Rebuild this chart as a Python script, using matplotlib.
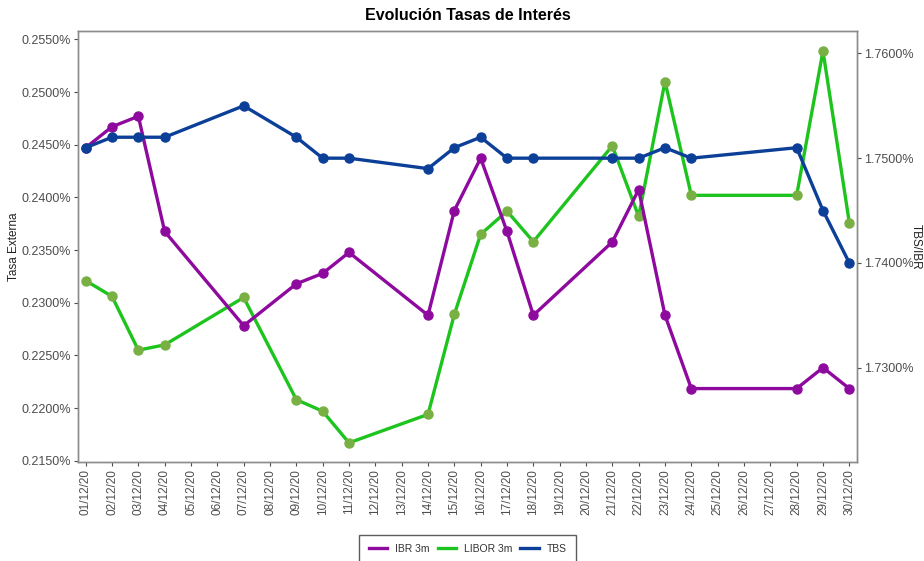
import matplotlib
matplotlib.use("Agg")
import matplotlib.pyplot as plt
from matplotlib.ticker import FuncFormatter, MultipleLocator
from matplotlib.lines import Line2D

plt.rcParams["font.family"] = ["Liberation Sans", "DejaVu Sans"]

# dias de diciembre 2020 con dato
dias = [1, 2, 3, 4, 7, 9, 10, 11, 14, 15, 16, 17, 18, 21, 22, 23, 24, 28, 29, 30]

ibr_3m = [1.7510, 1.7530, 1.7540, 1.7430, 1.7340, 1.7380, 1.7390, 1.7410, 1.7350, 1.7450,
          1.7500, 1.7430, 1.7350, 1.7420, 1.7470, 1.7350, 1.7280, 1.7280, 1.7300, 1.7280]
tbs = [1.7510, 1.7520, 1.7520, 1.7520, 1.7550, 1.7520, 1.7500, 1.7500, 1.7490, 1.7510,
       1.7520, 1.7500, 1.7500, 1.7500, 1.7500, 1.7510, 1.7500, 1.7510, 1.7450, 1.7400]
libor_3m = [0.2321, 0.2306, 0.2255, 0.2260, 0.2305, 0.2208, 0.2197, 0.2167, 0.2194, 0.2289,
            0.2365, 0.2387, 0.2358, 0.2449, 0.2382, 0.2510, 0.2402, 0.2402, 0.2539, 0.2376]

etiquetas = [f"{d:02d}/12/20" for d in range(1, 31)]

c_ibr = "#8e0a9e"
c_libor = "#1ec41e"
c_libor_pt = "#78b043"
c_tbs = "#0b3f98"
gris = "#4d4d4d"

fig = plt.figure(figsize=(9.24, 5.61), dpi=100)
ax = fig.add_axes([0.0844, 0.1765, 0.8431, 0.768])
ax2 = ax.twinx()

ax.plot(dias, libor_3m, color=c_libor, lw=2.4, zorder=2)
ax.plot(dias, libor_3m, "o", color=c_libor_pt, ms=6.5, zorder=3)
ax2.plot(dias, ibr_3m, color=c_ibr, lw=2.4, marker="o", ms=6.5, zorder=2)
ax2.plot(dias, tbs, color=c_tbs, lw=2.4, marker="o", ms=6.5, zorder=3)

ax.set_xlim(0.708, 30.292)
ax.set_ylim(0.21488, 0.25579)
ax2.set_ylim(1.72099, 1.76213)

ax.set_xticks(range(1, 31))
ax.set_xticklabels(etiquetas, rotation=90, color=gris)
ax.yaxis.set_major_locator(MultipleLocator(0.005))
ax2.yaxis.set_major_locator(MultipleLocator(0.01))
ax.yaxis.set_major_formatter(FuncFormatter(lambda v, p: f"{v:.4f}%"))
ax2.yaxis.set_major_formatter(FuncFormatter(lambda v, p: f"{v:.4f}%"))

for a in (ax, ax2):
    a.tick_params(colors=gris, labelsize=9, length=3, width=0.8, pad=2)
    for s in a.spines.values():
        s.set_color("#8c8c8c")
        s.set_linewidth(1.0)
ax.tick_params(axis="x", labelsize=8.5)

ax.set_ylabel("Tasa Externa", fontsize=8.5, color="#222222", va="center", ha="center")
ax.yaxis.set_label_coords(-0.082, 0.5)
ax2.set_ylabel("TBS/IBR", fontsize=8.5, color="#222222", rotation=-90, va="center", ha="center")
ax2.yaxis.set_label_coords(1.076, 0.5)

fig.suptitle("Evolución Tasas de Interés", x=0.506, y=0.985, fontsize=11.5, fontweight="bold")

handles = [Line2D([], [], color=c_ibr, lw=2.4),
           Line2D([], [], color=c_libor, lw=2.4),
           Line2D([], [], color=c_tbs, lw=2.4)]
leg = fig.legend(handles, ["IBR 3m", "LIBOR 3m", "TBS"], loc="upper center",
                 bbox_to_anchor=(0.506, 0.047), ncol=3, fontsize=7.5, frameon=True,
                 fancybox=False, handlelength=1.8, columnspacing=0.8, handletextpad=0.7,
                 borderpad=0.9, borderaxespad=0, labelcolor="#333333")
leg.get_frame().set_edgecolor("#333333")
leg.get_frame().set_linewidth(1.0)

fig.savefig("out.png", dpi=100)
